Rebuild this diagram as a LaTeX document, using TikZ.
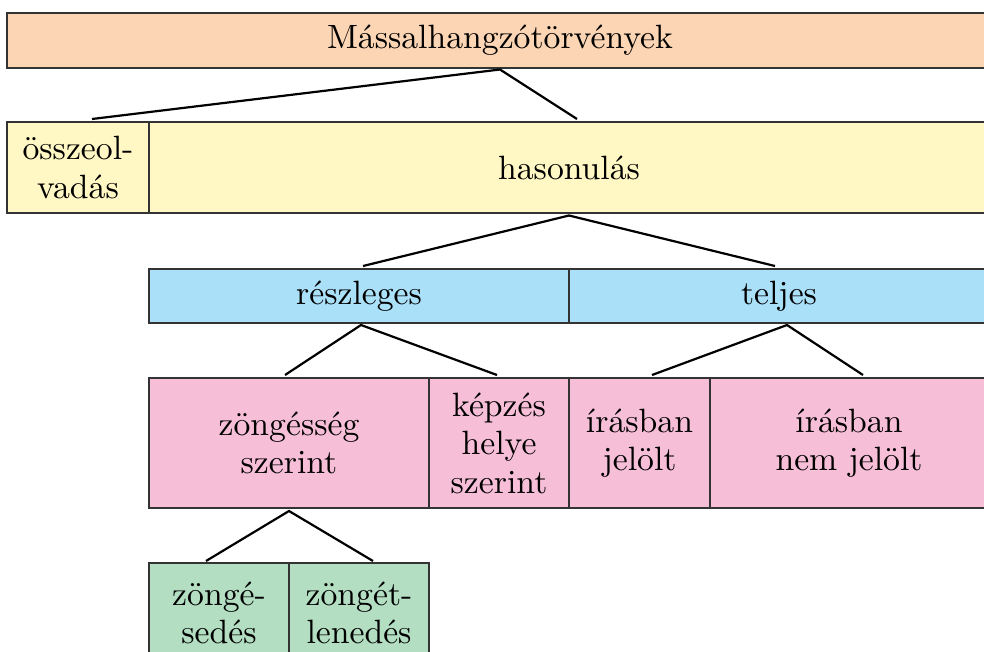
\documentclass[tikz,border=0pt]{standalone}
\usepackage{fontspec}
\setmainfont{lmroman10-regular.otf}
\usetikzlibrary{calc}
\definecolor{cpeach}{HTML}{FCD5B4}
\definecolor{cyellow}{HTML}{FFF8C4}
\definecolor{cblue}{HTML}{ABE0F9}
\definecolor{cpink}{HTML}{F7BFD7}
\definecolor{cgreen}{HTML}{B3DEC2}
\definecolor{cborder}{HTML}{333333}
\begin{document}
\begin{tikzpicture}[x=1pt,y=-1pt,
  box/.style={draw=cborder,line width=1.3pt,inner sep=0pt,outer sep=0pt,align=center,
    font=\fontsize{33.7}{38.5}\selectfont},
  link/.style={draw=black,line width=2.2pt}]
\useasboundingbox (0,0) rectangle (984,651);
% level 0
\node[box,fill=cpeach,minimum width=986pt,minimum height=55pt] (top) at (500,40.5) {Mássalhangzótörvények};
% level 1
\node[box,fill=cyellow,minimum width=142pt,minimum height=91pt] (ossz) at (78,167.5) {összeol-\\vadás};
\node[box,fill=cyellow,minimum width=840pt,minimum height=91pt] (haso) at (569,167.5) {hasonulás};
% level 2
\node[box,fill=cblue,minimum width=420pt,minimum height=54pt] (resz) at (359,296) {részleges};
\node[box,fill=cblue,minimum width=420pt,minimum height=54pt] (telj) at (779,296) {teljes};
% level 3
\node[box,fill=cpink,minimum width=280pt,minimum height=130pt] (zong) at (289,443) {zöngésség\\szerint};
\node[box,fill=cpink,minimum width=140pt,minimum height=130pt] (kepz) at (499,443) {képzés\\helye\\szerint};
\node[box,fill=cpink,minimum width=141pt,minimum height=130pt] (irj) at (639.5,443) {írásban\\jelölt};
\node[box,fill=cpink,minimum width=278pt,minimum height=130pt] (irnj) at (849,443) {írásban\\nem jelölt};
% level 4
\node[box,fill=cgreen,minimum width=140pt,minimum height=100pt] (zse) at (219,613) {zöngé-\\sedés};
\node[box,fill=cgreen,minimum width=140pt,minimum height=100pt] (ztl) at (359,613) {zöngét-\\lenedés};
% connectors
\draw[link] ($(ossz.north)+(14,-3)$) -- ($(top.south)+(0,1.5)$) -- ($(haso.north)+(8,-3)$);
\draw[link] ($(resz.north)+(4,-3)$) -- ($(haso.south)+(0,2.5)$) -- ($(telj.north)+(-4,-3)$);
\draw[link] ($(zong.north)+(-4,-3)$) -- ($(resz.south)+(2,2)$) -- ($(kepz.north)+(-2,-3)$);
\draw[link] ($(irj.north)+(12.5,-3)$) -- ($(telj.south)+(8,2)$) -- ($(irnj.north)+(14,-3)$);
\draw[link] ($(zse.north)+(-13,-2)$) -- ($(zong.south)+(0,3)$) -- ($(ztl.north)+(14,-2)$);
\end{tikzpicture}
\end{document}
